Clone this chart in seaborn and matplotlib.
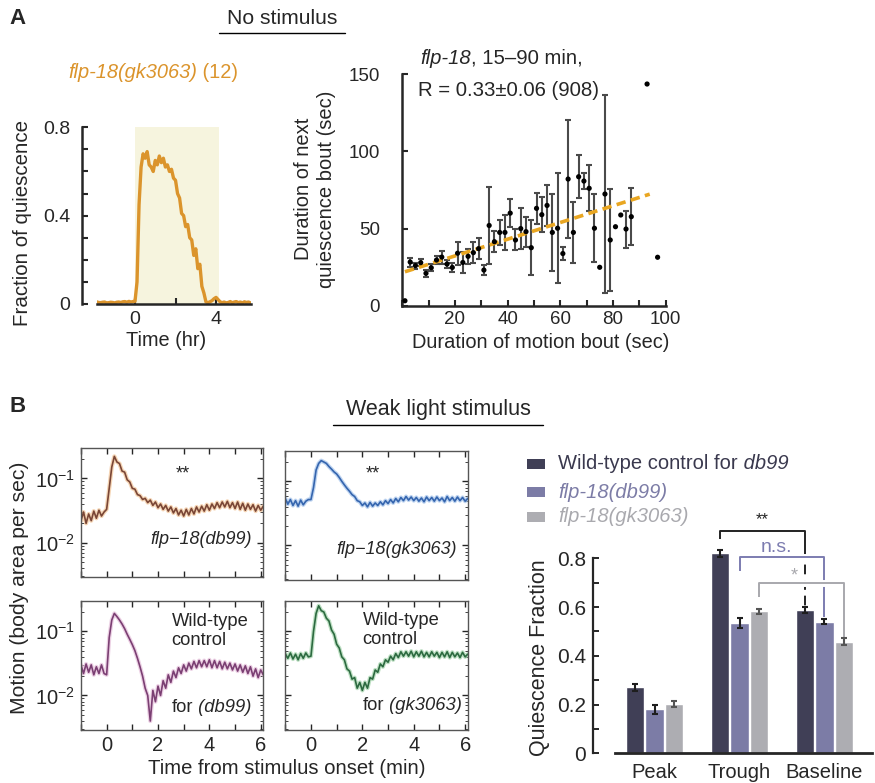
import numpy as np
import pandas as pd
import matplotlib
matplotlib.use("Agg")
import matplotlib.pyplot as plt
import matplotlib.patheffects as pe
from matplotlib.patches import Rectangle
from matplotlib.ticker import NullFormatter
import seaborn as sns

sns.set_style("ticks")
plt.rcParams["font.family"] = ["Liberation Sans", "DejaVu Sans"]
plt.rcParams["mathtext.fontset"] = "custom"
plt.rcParams["mathtext.rm"] = "Liberation Sans"
plt.rcParams["mathtext.it"] = "Liberation Sans:italic"

# ---------------- data ----------------
# A, left: fraction of quiescence, sampled every 0.1 hr from -1.9 hr
quiescence_start_hr = -1.9
quiescence_frac = [
    0.010, 0.007, 0.006, 0.008, 0.009, 0.005, 0.006, 0.008, 0.007, 0.005,
    0.008, 0.009, 0.007, 0.010, 0.011, 0.008, 0.012, 0.009, 0.011,
    0.012, 0.10, 0.45, 0.62, 0.68, 0.66, 0.69, 0.63, 0.62, 0.60,
    0.65, 0.63, 0.67, 0.64, 0.66, 0.62, 0.63, 0.60, 0.61, 0.57,
    0.56, 0.50, 0.48, 0.41, 0.40, 0.35, 0.36, 0.30, 0.29, 0.22,
    0.25, 0.16, 0.18, 0.08, 0.05, 0.010, 0.006, 0.010, 0.015, 0.024,
    0.030, 0.020, 0.010, 0.006, 0.009, 0.005, 0.007, 0.011, 0.006, 0.009,
    0.011, 0.006, 0.009, 0.005, 0.010, 0.007, 0.009, 0.005,
]
stimulus_window_hr = [0.0, 4.15]

# A, right: motion bout vs next quiescence bout
motion_bout = [1, 3, 5, 7, 9, 11, 13, 15, 17, 19, 21, 23, 25, 27, 29, 31, 33, 35,
               37, 39, 41, 43, 45, 47, 49, 51, 53, 55, 57, 59, 61, 63, 65, 67, 69,
               71, 73, 75, 77, 79, 81, 83, 85, 87, 93, 97]
next_quiescence = [3.2, 28.3, 26.0, 27.9, 21.0, 24.6, 29.6, 31.5, 27.0, 24.8, 34.0,
                   28.0, 32.0, 34.4, 37.0, 23.1, 52.0, 41.5, 47.5, 47.5, 60.0, 42.6,
                   50.0, 48.0, 37.6, 63.1, 59.0, 65.0, 47.5, 50.2, 33.8, 82.1, 47.5,
                   83.6, 80.8, 76.1, 50.2, 24.9, 72.4, 42.6, 51.2, 58.8, 49.7, 57.7,
                   143.7, 31.4]
next_quiescence_err = [0, 2.9, 2.0, 2.3, 2.4, 2.2, 2.8, 4.2, 2.5, 3.0, 7.3, 6.6, 5.0,
                       6.8, 7.0, 3.5, 25.0, 7.0, 8.0, 11.4, 9.3, 6.8, 13.5, 9.7, 17.8,
                       10.0, 11.5, 13.3, 25.0, 35.5, 4.4, 38.0, 19.5, 14.0, 5.0, 15.0,
                       22.0, 0, 64.0, 33.0, 0, 0, 12.0, 18.6, 0, 0]
fit_x = [1, 94]
fit_y = [22.0, 72.3]

# B, left: motion traces sampled every 0.1 min from -1.0 min
motion_start_min = -1.0
motion_flp_db99 = [
    0.022, 0.030, 0.020, 0.028, 0.022, 0.031, 0.024, 0.032, 0.026, 0.030,
    0.033, 0.07, 0.15, 0.22, 0.18, 0.17, 0.13, 0.125, 0.095, 0.088,
    0.070, 0.068, 0.056, 0.054, 0.047, 0.049, 0.042,
    0.046, 0.038, 0.043, 0.035, 0.040, 0.033, 0.038, 0.031, 0.036, 0.029,
    0.034, 0.027, 0.032, 0.026, 0.033, 0.027, 0.034, 0.028, 0.036, 0.030,
    0.037, 0.031, 0.039, 0.032, 0.040, 0.034, 0.042, 0.035, 0.043, 0.036,
    0.044, 0.035, 0.042, 0.034, 0.043, 0.033, 0.041, 0.032, 0.040, 0.033,
    0.039, 0.031, 0.038, 0.032, 0.037,
]
motion_flp_gk3063 = [
    0.054, 0.044, 0.052, 0.042, 0.050, 0.041, 0.051, 0.043, 0.049, 0.052,
    0.052, 0.08, 0.15, 0.19, 0.21, 0.20, 0.19, 0.17, 0.155, 0.14,
    0.13, 0.115, 0.10, 0.088, 0.078, 0.070, 0.062,
    0.058, 0.050, 0.048, 0.042, 0.046, 0.040, 0.047, 0.041, 0.046, 0.042,
    0.048, 0.043, 0.050, 0.045, 0.052, 0.046, 0.054, 0.048, 0.056, 0.050,
    0.058, 0.051, 0.057, 0.050, 0.056, 0.049, 0.055, 0.048, 0.057, 0.050,
    0.056, 0.049, 0.057, 0.050, 0.055, 0.048, 0.058, 0.050, 0.056, 0.049,
    0.057, 0.050, 0.056, 0.049, 0.054,
]
motion_wt_db99 = [
    0.030, 0.022, 0.031, 0.023, 0.030, 0.021, 0.028, 0.022, 0.030, 0.022,
    0.021, 0.08, 0.15, 0.19, 0.17, 0.15, 0.13, 0.11, 0.09, 0.075,
    0.062, 0.050, 0.038, 0.028, 0.020, 0.013, 0.010,
    0.004, 0.012, 0.008, 0.014, 0.010, 0.017, 0.013, 0.021, 0.016, 0.024,
    0.019, 0.027, 0.022, 0.030, 0.024, 0.032, 0.026, 0.034, 0.027, 0.035,
    0.028, 0.035, 0.028, 0.036, 0.027, 0.035, 0.027, 0.034, 0.026, 0.033,
    0.026, 0.032, 0.025, 0.031, 0.024, 0.030, 0.023, 0.029, 0.022, 0.028,
    0.020, 0.026, 0.019, 0.025, 0.021,
]
motion_wt_gk3063 = [
    0.045, 0.038, 0.046, 0.037, 0.044, 0.036, 0.045, 0.038, 0.046, 0.040,
    0.041, 0.10, 0.19, 0.25, 0.21, 0.20, 0.16, 0.145, 0.105, 0.09,
    0.063, 0.055, 0.040, 0.036, 0.026, 0.024, 0.018,
    0.019, 0.013, 0.016, 0.012, 0.016, 0.013, 0.019, 0.018, 0.025, 0.023,
    0.031, 0.028, 0.036, 0.033, 0.041, 0.036, 0.045, 0.039, 0.048, 0.041,
    0.048, 0.041, 0.049, 0.040, 0.048, 0.041, 0.049, 0.040, 0.047, 0.040,
    0.048, 0.041, 0.047, 0.039, 0.047, 0.040, 0.048, 0.039, 0.047, 0.040,
    0.046, 0.039, 0.047, 0.040, 0.044,
]

# B, right: quiescence fraction per phase
phases = ["Peak", "Trough", "Baseline"]
strains = ["wt_db99", "flp18_db99", "flp18_gk3063"]
frac_wt_db99 = [0.271, 0.821, 0.587]
frac_wt_db99_err = [0.015, 0.015, 0.012]
frac_flp18_db99 = [0.180, 0.535, 0.540]
frac_flp18_db99_err = [0.018, 0.020, 0.010]
frac_flp18_gk3063 = [0.202, 0.583, 0.458]
frac_flp18_gk3063_err = [0.012, 0.010, 0.015]

# ---------------- figure ----------------
W, H = 875, 783
fig = plt.figure(figsize=(W / 100, H / 100), dpi=100)
PT = 72 / 100  # points per pixel


def rect(l, t, r, b):
    return [l / W, 1 - b / H, (r - l) / W, (b - t) / H]


ORANGE = "#DB942C"

# overlay in pixel coordinates for free text and rules
ov = fig.add_axes([0, 0, 1, 1], zorder=10)
ov.set_xlim(0, W)
ov.set_ylim(H, 0)
ov.axis("off")


def rich(x, y, parts, **kw):
    t = ov.text(x, y, parts[0][0], style=parts[0][1], ha="left", va="center", **kw)
    for s, st in parts[1:]:
        t = ov.annotate(s, xy=(1, 0.5), xycoords=t, style=st, ha="left",
                        va="center", annotation_clip=False, **kw)
    return t


# ---- panel A, left: fraction of quiescence over time ----
axA = fig.add_axes(rect(96.5, 127.3, 250.7, 304))
tA = quiescence_start_hr + 0.1 * np.arange(len(quiescence_frac))
axA.axvspan(*stimulus_window_hr, color="#F6F4DE", lw=0, zorder=0)
sns.lineplot(x=tA, y=quiescence_frac, ax=axA, color=ORANGE, lw=2.4)
axA.set_xlim(-1.9, 5.71)
axA.set_ylim(0, 0.8)
sns.despine(ax=axA)
axA.spines["left"].set_position(("outward", 14.8 * PT))
for s in ("left", "bottom"):
    axA.spines[s].set_linewidth(1.8)
axA.set_xticks([0, 2, 4])
axA.set_xticklabels(["0", "", "4"])
axA.set_yticks(np.round(np.arange(0, 0.81, 0.1), 1))
axA.set_yticklabels(["0", "", "", "", "0.4", "", "", "", "0.8"])
axA.tick_params(direction="in", length=4, width=1.5, labelsize=14)
axA.tick_params(axis="y", pad=8.0)
axA.tick_params(axis="x", pad=5.0)
axA.set_xlabel("")
axA.set_ylabel("")
ov.text(22.5, 223, "Fraction of quiescence", rotation=90, ha="center", va="center", fontsize=14.8)
ov.text(166, 340, "Time (hr)", ha="center", va="center", fontsize=14.3)
rich(68, 73, [("flp-18(gk3063)", "italic"), (" (12)", "normal")], fontsize=14.4, color=ORANGE)

# ---- panel A, right: motion bout vs next quiescence bout ----
axS = fig.add_axes(rect(402.3, 74.3, 665.5, 305.7))
mx = np.array(motion_bout, float)
my = np.array(next_quiescence, float)
me = np.array(next_quiescence_err, float)
has_err = me > 0
axS.errorbar(mx[has_err], my[has_err], yerr=me[has_err], fmt="none", ecolor="#4A4A4A",
             elinewidth=1.5, capsize=2.0, capthick=1.5, zorder=2)
sns.lineplot(x=fit_x, y=fit_y, ax=axS, color="#E9A621", lw=2.6,
             linestyle=(0, (2.6, 1.5)), zorder=2.5)
sns.scatterplot(x=mx, y=my, ax=axS, color="black", s=14, edgecolor="none",
                zorder=3, clip_on=False)
axS.set_xlim(0, 100)
axS.set_ylim(0, 150)
sns.despine(ax=axS)
for s in ("left", "bottom"):
    axS.spines[s].set_linewidth(1.8)
axS.set_xticks(np.arange(0, 101, 10))
axS.set_xticklabels(["", "", "20", "", "40", "", "60", "", "80", "", "100"])
axS.set_yticks([0, 50, 100, 150])
axS.tick_params(direction="in", length=4, width=1.5, labelsize=13.5)
axS.tick_params(axis="y", pad=16)
axS.tick_params(axis="x", pad=4.0)
axS.set_xlabel("")
axS.set_ylabel("")
ov.text(315, 189, "Duration of next\nquiescence bout (sec)", rotation=90, ha="center",
        va="center", fontsize=14.5, linespacing=1.25, multialignment="center")
ov.text(541, 343, "Duration of motion bout (sec)", ha="center", va="center", fontsize=14.4)
rich(420, 58, [("flp-18", "italic"), (", 15\u201390 min,", "normal")], fontsize=14.6)
ov.text(418.3, 90, "R = 0.33\u00b10.06 (908)", ha="left", va="center", fontsize=14.7)

# ---- panel B, left: motion traces on log scale ----
trace_panels = [
    ((80.7, 447.7, 263.3, 577.3), motion_flp_db99, "#7A4636", "#F2C79C", True, False),
    ((285.0, 450.7, 467.7, 580.0), motion_flp_gk3063, "#3565AE", "#A9C6EC", False, False),
    ((80.7, 600.7, 263.3, 730.0), motion_wt_db99, "#7B3F73", "#E6C2DC", True, True),
    ((285.0, 600.7, 467.7, 730.0), motion_wt_gk3063, "#2C6A40", "#A9D6B0", False, True),
]
for box, vals, col, halo_col, show_y, show_x in trace_panels:
    ax = fig.add_axes(rect(*box))
    tB = motion_start_min + 0.1 * np.arange(len(vals))
    sns.lineplot(x=tB, y=vals, ax=ax, color=halo_col, lw=3.0, alpha=0.75)
    sns.lineplot(x=tB, y=vals, ax=ax, color=col, lw=1.2)
    ax.set_yscale("log")
    ax.set_ylim(0.0029, 0.3)
    ax.set_xlim(-1.01, 6.1)
    ax.set_xticks(np.arange(-1, 7))
    ax.set_xticklabels(["", "0", "", "2", "", "4", "", "6"] if show_x else [""] * 8)
    ax.set_yticks([0.01, 0.1])
    ax.set_yticklabels([r"$10^{-2}$", r"$10^{-1}$"] if show_y else ["", ""])
    ax.yaxis.set_minor_formatter(NullFormatter())
    ax.tick_params(which="both", direction="in", top=True, right=True, labelsize=14.5)
    ax.tick_params(which="major", length=4, width=1.0, pad=4)
    ax.tick_params(which="minor", length=2, width=0.6)
    for s in ax.spines.values():
        s.set_linewidth(1.0)
        s.set_color("#555555")
    ax.set_xlabel("")
    ax.set_ylabel("")

ov.text(183, 474, "**", ha="center", va="center", fontsize=13)
ov.text(373, 474, "**", ha="center", va="center", fontsize=13)
ov.text(251.7, 540, "flp\u221218(db99)", ha="right", va="center", fontsize=13, style="italic")
ov.text(456.7, 550, "flp\u221218(gk3063)", ha="right", va="center", fontsize=13, style="italic")
ov.text(171.7, 631, "Wild-type\ncontrol", ha="left", va="center", fontsize=13.2, linespacing=1.2)
rich(171.7, 708, [("for", "normal"), (" (db99)", "italic")], fontsize=13.2)
ov.text(362.7, 630, "Wild-type\ncontrol", ha="left", va="center", fontsize=13.2, linespacing=1.2)
rich(362.7, 705, [("for", "normal"), (" (gk3063)", "italic")], fontsize=13.2)
ov.text(20, 588, "Motion (body area per sec)", rotation=90, ha="center", va="center", fontsize=15.2)
ov.text(286.5, 768, "Time from stimulus onset (min)", ha="center", va="center", fontsize=14.6)

# ---- panel B, right: quiescence fraction bars ----
bar_colors = {"wt_db99": "#403F56", "flp18_db99": "#7C7CA6", "flp18_gk3063": "#ADADB2"}
df = pd.DataFrame({
    "phase": phases * 3,
    "strain": np.repeat(strains, 3),
    "frac": frac_wt_db99 + frac_flp18_db99 + frac_flp18_gk3063,
    "err": frac_wt_db99_err + frac_flp18_db99_err + frac_flp18_gk3063_err,
})
axB = fig.add_axes(rect(615, 509.6, 872, 753.3))
sns.barplot(data=df, x="phase", y="frac", hue="strain", order=phases, hue_order=strains,
            palette=bar_colors, width=0.69, gap=0.05, errorbar=None, legend=False,
            saturation=1, ax=axB)
err_colors = {"wt_db99": "#1E1E1E", "flp18_db99": "#1E1E1E", "flp18_gk3063": "#555555"}
bar_x = {}
for strain, cont in zip(strains, axB.containers):
    sub = df[df.strain == strain].set_index("phase").loc[phases]
    xs = [p.get_x() + p.get_width() / 2 for p in cont]
    bar_x[strain] = dict(zip(phases, xs))
    axB.errorbar(xs, sub["frac"], yerr=sub["err"], fmt="none", ecolor=err_colors[strain],
                 elinewidth=1.5, capsize=2.2, capthick=1.5, zorder=3)
axB.set_xlim(-0.468, 2.561)
axB.set_ylim(0, 1.0)
sns.despine(ax=axB)
axB.spines["left"].set_position(("outward", 22 * PT))
axB.spines["left"].set_bounds(0, 0.8)
axB.spines["left"].set_linewidth(1.6)
axB.spines["bottom"].set_linewidth(2.0)
axB.set_yticks(np.round(np.arange(0, 0.81, 0.1), 1))
axB.set_yticklabels(["0", "", "0.2", "", "0.4", "", "0.6", "", "0.8"])
axB.tick_params(axis="y", direction="in", length=4, width=1.4, labelsize=15, pad=5.0)
axB.tick_params(axis="x", length=0, labelsize=14.5, pad=7)
axB.set_xlabel("")
axB.set_ylabel("")
ov.text(539, 658, "Quiescence Fraction", rotation=90, ha="center", va="center", fontsize=15.5)

halo = [pe.withStroke(linewidth=5, foreground="white")]


def bracket(strain, y_top, y_left, y_right, color, y_solid=None, effects=None):
    x0 = bar_x[strain]["Trough"]
    x1 = bar_x[strain]["Baseline"]
    kw = dict(color=color, lw=1.4, solid_capstyle="butt", clip_on=False)
    if effects:
        kw["path_effects"] = effects
    if y_solid is None:
        axB.plot([x0, x0, x1, x1], [y_left, y_top, y_top, y_right], **kw)
    else:
        axB.plot([x0, x0, x1, x1], [y_left, y_top, y_top, y_solid], **kw)
        axB.plot([x1, x1], [y_solid, y_right], linestyle=(0, (5, 3)), **kw)
    return (x0 + x1) / 2


mid = bracket("wt_db99", 0.913, 0.878, 0.601, "#222222", y_solid=0.837)
axB.text(mid, 0.957, "**", ha="center", va="center", fontsize=12, color="#222222")
mid = bracket("flp18_db99", 0.804, 0.748, 0.561, "#7C7CB0", effects=halo)
axB.text(mid - 0.07, 0.845, "n.s.", ha="center", va="center", fontsize=14, color="#7C7CB0")
mid = bracket("flp18_gk3063", 0.700, 0.640, 0.478, "#A8A8AD", effects=halo)
axB.text(mid - 0.09, 0.727, "*", ha="center", va="center", fontsize=13, color="#A8A8AD")

# legend for the bars
legend_rows = [
    (463.5, [("Wild-type control for", "normal"), (" db99", "italic")], "wt_db99", "#3A394E"),
    (492.0, [("flp-18(db99)", "italic")], "flp18_db99", "#7C7CA6"),
    (516.5, [("flp-18(gk3063)", "italic")], "flp18_gk3063", "#A9A9AE"),
]
for y, parts, key, tcol in legend_rows:
    ov.add_patch(Rectangle((527, y - 5), 18, 10, color=bar_colors[key], lw=0))
    rich(558, y, parts, fontsize=14.5, color=tcol)

# ---- headers ----
ov.text(18, 18, "A", ha="center", va="center", fontsize=16, fontweight="bold")
ov.text(18, 407, "B", ha="center", va="center", fontsize=16, fontweight="bold")
ov.text(282, 19, "No stimulus", ha="center", va="center", fontsize=15.2)
ov.plot([219, 345], [33.3, 33.3], color="black", lw=1)
ov.text(438, 410, "Weak light stimulus", ha="center", va="center", fontsize=15.5)
ov.plot([333, 543], [425, 425], color="black", lw=1)

fig.savefig("out.png", dpi=100)
